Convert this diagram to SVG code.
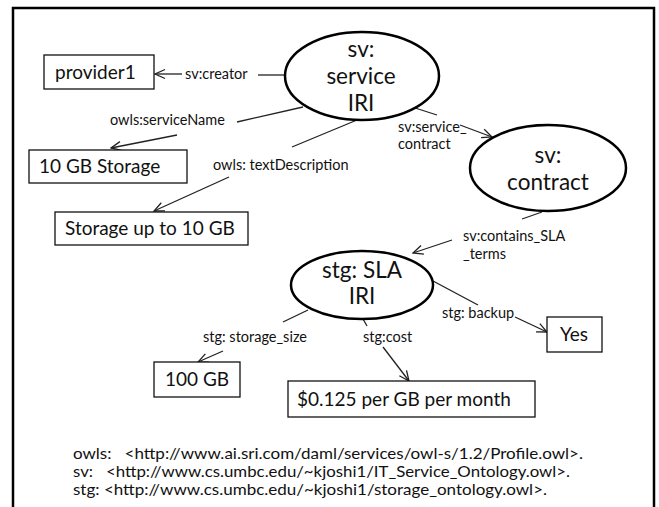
<svg xmlns="http://www.w3.org/2000/svg" width="659" height="507" viewBox="0 0 659 507">
<defs>
<style>
.frame{fill:#fff;stroke:#000;stroke-width:2.5}
.box{fill:#fff;stroke:#111;stroke-width:1.3}
.ell{fill:#fff;stroke:#000;stroke-width:2.5}
.bt{font-family:Lato,"Liberation Sans",sans-serif;font-size:19px;fill:#111}
.nt{font-family:Lato,"Liberation Sans",sans-serif;font-size:22.5px;fill:#111;text-anchor:middle}
.lt{font-family:Lato,"Liberation Sans",sans-serif;font-size:14.5px;fill:#111}
.ft{font-family:Lato,"Liberation Sans",sans-serif;font-size:16px;fill:#111}
.ln{fill:none;stroke:#222;stroke-width:1.3}
.ar{fill:none;stroke:#222;stroke-width:1.3;marker-end:url(#arr)}
</style>
<marker id="arr" viewBox="0 0 12 12" refX="11" refY="6" markerWidth="12" markerHeight="12" orient="auto" markerUnits="userSpaceOnUse">
<path d="M1,1.5 L11,6 L1,10.5" fill="none" stroke="#222" stroke-width="1.3"/>
</marker>
</defs>
<rect x="0" y="0" width="659" height="507" fill="#fff"/>
<rect class="frame" x="13" y="8" width="641" height="520"/>

<g id="connectors">
<line class="ln" x1="285" y1="75" x2="258" y2="75"/>
<line class="ar" x1="182" y1="74" x2="155" y2="74"/>
<line class="ln" x1="303" y1="107" x2="237" y2="122"/>
<line class="ar" x1="177" y1="135" x2="111" y2="148"/>
<line class="ln" x1="357" y1="120" x2="292" y2="147"/>
<line class="ar" x1="229" y1="177" x2="154" y2="211"/>
<line class="ln" x1="412" y1="107" x2="437" y2="115"/>
<line class="ar" x1="460" y1="125" x2="492" y2="137"/>
<line class="ln" x1="542" y1="212" x2="522" y2="219"/>
<line class="ar" x1="452" y1="240" x2="413" y2="253"/>
<line class="ln" x1="433" y1="281" x2="478" y2="305"/>
<line class="ar" x1="515" y1="317" x2="547" y2="332"/>
<line class="ln" x1="308" y1="310" x2="283" y2="322"/>
<line class="ar" x1="223" y1="351" x2="198" y2="362"/>
<line class="ln" x1="363" y1="319" x2="367" y2="326"/>
<line class="ar" x1="383" y1="347" x2="409" y2="381"/>
</g>

<g id="labels">
<text class="lt" x="185" y="79">sv:creator</text>
<text class="lt" x="110" y="125">owls:serviceName</text>
<text class="lt" x="213" y="170">owls: textDescription</text>
<text class="lt" x="398" y="132">sv:service_</text>
<text class="lt" x="398" y="149">contract</text>
<text class="lt" x="463" y="241">sv:contains_SLA</text>
<text class="lt" x="463" y="259">_terms</text>
<text class="lt" x="442" y="318">stg: backup</text>
<text class="lt" x="203" y="342">stg: storage_size</text>
<text class="lt" x="363" y="342">stg:cost</text>
</g>

<g id="service">
<ellipse class="ell" cx="362" cy="76" rx="77" ry="44"/>
<text class="nt" x="361" y="57">sv:</text>
<text class="nt" x="361" y="84">service</text>
<text class="nt" x="361" y="111">IRI</text>
</g>
<g id="contract">
<ellipse class="ell" cx="548" cy="168" rx="78" ry="43"/>
<text class="nt" x="548" y="163">sv:</text>
<text class="nt" x="548" y="190">contract</text>
</g>
<g id="sla">
<ellipse class="ell" cx="362" cy="285" rx="71" ry="34"/>
<text class="nt" x="362" y="278">stg: SLA</text>
<text class="nt" x="362" y="304">IRI</text>
</g>

<g id="provider1">
<rect class="box" x="44" y="55" width="110" height="34"/>
<text class="bt" x="55" y="79">provider1</text>
</g>
<g id="serviceName">
<rect class="box" x="29" y="150" width="158" height="33"/>
<text class="bt" x="39" y="173">10 GB Storage</text>
</g>
<g id="textDescription">
<rect class="box" x="55" y="212" width="193" height="33"/>
<text class="bt" x="65" y="235">Storage up to 10 GB</text>
</g>
<g id="yes">
<rect class="box" x="547" y="317" width="55" height="35"/>
<text class="bt" x="560" y="341">Yes</text>
</g>
<g id="size">
<rect class="box" x="154" y="362" width="86" height="35"/>
<text class="bt" x="165" y="386">100 GB</text>
</g>
<g id="cost">
<rect class="box" x="288" y="381" width="247" height="36"/>
<text class="bt" x="297" y="406">$0.125 per GB per month</text>
</g>

<g id="footer">
<text class="ft" x="73" y="459" xml:space="preserve" textLength="510" lengthAdjust="spacingAndGlyphs">owls:   &lt;http://www.ai.sri.com/daml/services/owl-s/1.2/Profile.owl&gt;.</text>
<text class="ft" x="73" y="477" xml:space="preserve" textLength="497" lengthAdjust="spacingAndGlyphs">sv:   &lt;http://www.cs.umbc.edu/~kjoshi1/IT_Service_Ontology.owl&gt;.</text>
<text class="ft" x="73" y="495" xml:space="preserve" textLength="474" lengthAdjust="spacingAndGlyphs">stg: &lt;http://www.cs.umbc.edu/~kjoshi1/storage_ontology.owl&gt;.</text>
</g>
</svg>
